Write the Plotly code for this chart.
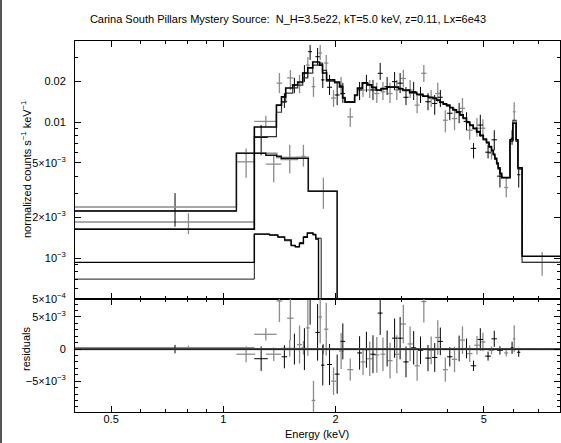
import bisect
import plotly.graph_objects as go

# ---------------- data ----------------
# main model (data group 1, black) : bin edges (keV) and values (counts/s/keV)
main_edges = [0.4, 1.211, 1.388, 1.432, 1.470, 1.535, 1.583, 1.633, 1.684, 1.737,
              1.812, 1.845, 1.892, 1.988, 2.05, 2.089, 2.12, 2.25, 2.29, 2.36,
              2.43, 2.50, 2.57, 2.65, 2.75, 2.85, 2.95, 3.03, 3.16, 3.30,
              3.43, 3.55, 3.65, 3.73, 3.81, 3.89, 3.97, 4.05, 4.13, 4.22,
              4.31, 4.40, 4.49, 4.58, 4.68, 4.78, 4.88, 4.98, 5.08, 5.16,
              5.24, 5.30, 5.35, 5.41, 5.46, 5.52, 5.58, 5.874, 5.98, 6.10,
              6.17, 6.33, 8.0]
main_model_k = [0.00163, 0.0092, 0.0133, 0.0153, 0.0178, 0.0187, 0.0197, 0.0229, 0.0250, 0.0276,
                0.0262, 0.0229, 0.0204, 0.0197, 0.0181, 0.0150, 0.0140, 0.0158, 0.0178, 0.0194,
                0.0188, 0.0180, 0.0172, 0.0176, 0.0181, 0.0181, 0.0176, 0.0172, 0.0165, 0.0160,
                0.0155, 0.0152, 0.0150, 0.0145, 0.0140, 0.0136, 0.0133, 0.0128, 0.0123, 0.0118,
                0.0113, 0.0107, 0.0100, 0.0095, 0.0090, 0.0085, 0.0080, 0.0075, 0.0071, 0.0066,
                0.0062, 0.0058, 0.0054, 0.0050, 0.0046, 0.0042, 0.0039, 0.0074, 0.0098, 0.0074,
                0.0046, 0.00103]
# main model (data group 2, grey)
main_model_g = [0.00163, 0.0078, 0.0118, 0.0140, 0.0163, 0.0178, 0.0187, 0.0211, 0.0229, 0.0262,
                0.0271, 0.0240, 0.0200, 0.0194, 0.0185, 0.0152, 0.0141, 0.0156, 0.0176, 0.0192,
                0.0187, 0.0178, 0.0171, 0.0175, 0.0180, 0.0180, 0.0175, 0.0170, 0.0164, 0.0159,
                0.0154, 0.0151, 0.0148, 0.0144, 0.0139, 0.0135, 0.0131, 0.0127, 0.0122, 0.0117,
                0.0112, 0.0106, 0.0099, 0.0094, 0.0089, 0.0084, 0.0079, 0.0074, 0.0070, 0.0065,
                0.0061, 0.0057, 0.0053, 0.0049, 0.0045, 0.0041, 0.0039, 0.0072, 0.0103, 0.0072,
                0.0045, 0.00093]

# second (soft) spectrum model
mid_edges = [0.4, 1.084, 1.30, 1.39, 1.43, 1.58, 1.69, 2.02, 8.0]
mid_model_k = [0.00222, 0.0059, 0.0057, 0.0056, 0.0054, 0.0054, 0.0031, 1e-5]
mid_model_g = [0.00237, 0.0059, 0.0059, 0.0055, 0.0053, 0.0055, 0.0031, 1e-5]

# low additive components
low_edges = [0.4, 1.211, 1.33, 1.40, 1.46, 1.52, 1.56, 1.60, 1.64, 1.68, 1.74, 1.77, 1.80, 8.0]
low_model = [0.00093, 0.00150, 0.00148, 0.00143, 0.00136, 0.00124, 0.00121, 0.00128,
             0.00142, 0.00153, 0.00149, 0.00138, 1e-5]
low2_edges = [0.4, 1.211, 1.33, 1.40, 1.46, 1.52, 1.56, 1.60, 1.64, 1.68, 1.74, 1.77, 1.83, 8.0]
low2_model = [0.00070, 0.00150, 0.00147, 0.00142, 0.00134, 0.00123, 0.00121, 0.00130,
              0.00144, 0.00152, 0.00148, 0.00140, 1e-5]

# data group 1 (black crosses)
k_E = [0.742, 1.263, 1.458, 1.551, 1.65, 1.709, 1.79, 1.848, 1.927, 2.02, 2.092, 2.32, 2.42,
       2.52, 2.635, 2.75, 2.88, 2.98, 3.09, 3.24, 3.38, 3.54, 3.69, 3.82, 4.05, 4.29,
       4.49, 4.69, 4.89, 5.13, 5.33, 5.52, 5.95, 6.2]
k_dE = [0.342, 0.053, 0.025, 0.025, 0.025, 0.02, 0.025, 0.02, 0.03, 0.03, 0.03, 0.035, 0.04,
        0.04, 0.04, 0.045, 0.045, 0.05, 0.05, 0.05, 0.055, 0.06, 0.06, 0.06, 0.07, 0.07,
        0.08, 0.08, 0.08, 0.09, 0.09, 0.1, 0.05, 0.06]
k_val = [0.00222, 0.0077, 0.0141, 0.0187, 0.0229, 0.0329, 0.0302, 0.0204, 0.0180, 0.0158, 0.0162,
         0.0172, 0.0193, 0.0172, 0.0228, 0.0182, 0.0198, 0.0193, 0.0152, 0.0167, 0.0158, 0.0141,
         0.0137, 0.0152, 0.0116, 0.0119, 0.0101, 0.0064, 0.0095, 0.0060, 0.0074, 0.0040,
         0.0076, 0.0041]
k_hi = [0.00300, 0.0095, 0.0163, 0.0211, 0.0262, 0.0368, 0.0350, 0.0241, 0.0222, 0.0194, 0.0194,
        0.0197, 0.0222, 0.0204, 0.0272, 0.0214, 0.0233, 0.0229, 0.0181, 0.0197, 0.0181, 0.0163,
        0.0158, 0.0172, 0.0133, 0.0138, 0.0118, 0.0070, 0.0113, 0.0068, 0.0087, 0.0046,
        0.0087, 0.0047]
k_lo = [0.00170, 0.0057, 0.0127, 0.0163, 0.0197, 0.0286, 0.0262, 0.0178, 0.0158, 0.0133, 0.0138,
        0.0145, 0.0166, 0.0145, 0.0204, 0.0158, 0.0172, 0.0163, 0.0133, 0.0145, 0.0138, 0.0122,
        0.0113, 0.0129, 0.0103, 0.0098, 0.0087, 0.0054, 0.0078, 0.0054, 0.0062, 0.0033,
        0.0068, 0.0033]

# data group 2 (grey crosses)
g_E = [0.806, 1.30, 1.414, 1.513, 1.601, 1.685, 1.745, 1.819, 1.888, 1.975, 2.07, 2.19, 2.37,
       2.47, 2.58, 2.68, 2.80, 2.92, 3.04, 3.17, 3.31, 3.45, 3.61, 3.76, 3.94, 4.17, 4.38,
       4.58, 4.79, 4.97, 5.24, 5.74, 6.03, 7.165]
g_dE = [0.406, 0.09, 0.025, 0.03, 0.025, 0.02, 0.02, 0.02, 0.025, 0.03, 0.03, 0.04, 0.035,
        0.04, 0.04, 0.04, 0.045, 0.045, 0.05, 0.05, 0.05, 0.055, 0.06, 0.06, 0.06, 0.07, 0.07,
        0.08, 0.08, 0.08, 0.09, 0.07, 0.05, 0.835]
g_val = [0.00184, 0.0101, 0.0193, 0.0211, 0.0194, 0.0262, 0.0182, 0.0321, 0.0271, 0.0150, 0.0182,
         0.0109, 0.0172, 0.0172, 0.0162, 0.0167, 0.0162, 0.0172, 0.0209, 0.0172, 0.0133, 0.0228,
         0.0149, 0.0162, 0.0103, 0.0106, 0.0126, 0.0087, 0.0090, 0.0090, 0.0059, 0.0033, 0.0119,
         0.00093]
g_hi = [0.00214, 0.0111, 0.0229, 0.0241, 0.0222, 0.0301, 0.0214, 0.0368, 0.0311, 0.0172, 0.0214,
        0.0127, 0.0194, 0.0204, 0.0194, 0.0197, 0.0194, 0.0204, 0.0241, 0.0204, 0.0163, 0.0262,
        0.0172, 0.0194, 0.0122, 0.0127, 0.0150, 0.0100, 0.0107, 0.0105, 0.0065, 0.0039, 0.0140,
        0.00111]
g_lo = [0.00150, 0.0092, 0.0163, 0.0172, 0.0163, 0.0214, 0.0153, 0.0286, 0.0229, 0.0129, 0.0158,
        0.0092, 0.0153, 0.0150, 0.0138, 0.0145, 0.0138, 0.0145, 0.0181, 0.0150, 0.0116, 0.0197,
        0.0129, 0.0140, 0.0084, 0.0087, 0.0107, 0.0074, 0.0078, 0.0076, 0.0053, 0.0028, 0.0098,
        0.00074]

# soft spectrum data
m_E = [1.151, 1.365, 1.507, 1.64, 1.855]
m_dE = [0.067, 0.065, 0.075, 0.02, 0.165]
m_val = [0.0051, 0.0049, 0.0055, 0.0056, 0.0031]
m_hi = [0.0064, 0.0057, 0.0068, 0.0068, 0.0039]
m_lo = [0.0039, 0.0036, 0.0042, 0.0047, 0.0023]

TITLE = "Carina South Pillars Mystery Source:  N_H=3.5e22, kT=5.0 keV, z=0.11, Lx=6e43"
x_major = [0.5, 1, 2, 5]
x_minor = [0.4, 0.6, 0.7, 0.8, 0.9, 3, 4, 6, 7, 8]
y_major = [5e-4, 1e-3, 2e-3, 5e-3, 0.01, 0.02]
y_major_txt = ["5×10<sup>−4</sup>", "10<sup>−3</sup>", "2×10<sup>−3</sup>",
               "5×10<sup>−3</sup>", "0.01", "0.02"]
y_minor = [6e-4, 7e-4, 8e-4, 9e-4, 3e-3, 4e-3, 6e-3, 7e-3, 8e-3, 9e-3, 0.03]
r_major = [-5e-3, 0, 5e-3]
r_major_txt = ["−5×10<sup>−3</sup>", "0", "5×10<sup>−3</sup>"]
r_minor = [-9e-3, -8e-3, -7e-3, -6e-3, -4e-3, -3e-3, -2e-3, -1e-3,
           1e-3, 2e-3, 3e-3, 4e-3, 6e-3, 7e-3]

# ---------------- styling ----------------
BLACK = "#000000"
GREY = "#8c8c8c"
FONT = "Liberation Sans, Arial, Helvetica, sans-serif"


def model_at(E, edges, vals):
    i = bisect.bisect_right(edges, E) - 1
    i = max(0, min(i, len(vals) - 1))
    return vals[i]


fig = go.Figure()


def add_cross(E, dE, val, hi, lo, color, width, yaxis="y", xaxis="x"):
    fig.add_trace(go.Scatter(
        x=E, y=val, mode="markers", xaxis=xaxis, yaxis=yaxis,
        marker=dict(size=1, color=color),
        error_x=dict(type="data", array=dE, width=0, thickness=width, color=color),
        error_y=dict(type="data", symmetric=False,
                     array=[h - v for h, v in zip(hi, val)],
                     arrayminus=[v - l for v, l in zip(val, lo)],
                     width=0, thickness=width, color=color),
        showlegend=False, hoverinfo="skip"))


def add_step(edges, vals, color, width):
    fig.add_trace(go.Scatter(
        x=edges, y=list(vals) + [vals[-1]], mode="lines",
        line=dict(color=color, width=width, shape="hv"),
        showlegend=False, hoverinfo="skip"))


# top panel: data
add_cross(g_E, g_dE, g_val, g_hi, g_lo, GREY, 1.3)
add_cross(m_E, m_dE, m_val, m_hi, m_lo, GREY, 1.3)
add_cross(k_E, k_dE, k_val, k_hi, k_lo, BLACK, 1.0)

# top panel: models
add_step(mid_edges, mid_model_g, GREY, 1.6)
add_step(mid_edges, mid_model_k, "#111111", 1.4)
add_step(low2_edges, low2_model, BLACK, 0.9)
add_step(low_edges, low_model, BLACK, 1.4)
add_step(main_edges, main_model_g, "#333333", 1.2)
add_step(main_edges, main_model_k, BLACK, 1.6)


# residual panel: data minus model
def resid(E, val, edges, vals):
    return [v - model_at(e, edges, vals) for e, v in zip(E, val)]


k_model_edges = [mid_edges] + [main_edges] * (len(k_E) - 1)
k_model_vals = [mid_model_k] + [main_model_k] * (len(k_E) - 1)
k_res = [v - model_at(e, ed, mv) for e, v, ed, mv in zip(k_E, k_val, k_model_edges, k_model_vals)]
g_res = resid(g_E, g_val, main_edges, main_model_g)
m_res = resid(m_E, m_val, mid_edges, mid_model_k)


def add_res(E, dE, res, hi, lo, color, width):
    err = [(h - l) / 2 for h, l in zip(hi, lo)]
    fig.add_trace(go.Scatter(
        x=E, y=res, mode="markers", xaxis="x2", yaxis="y2",
        marker=dict(size=1, color=color),
        error_x=dict(type="data", array=dE, width=0, thickness=width, color=color),
        error_y=dict(type="data", array=err, width=0, thickness=width, color=color),
        showlegend=False, hoverinfo="skip"))


add_res(g_E, g_dE, g_res, g_hi, g_lo, GREY, 1.3)
add_res(m_E, m_dE, m_res, m_hi, m_lo, GREY, 1.3)
add_res(k_E, k_dE, k_res, k_hi, k_lo, BLACK, 1.0)

zero_x = [0.4, 8.0]
fig.add_trace(go.Scatter(x=zero_x, y=[0, 0], mode="lines", xaxis="x2", yaxis="y2",
                         line=dict(color=GREY, width=2.4), showlegend=False, hoverinfo="skip"))
fig.add_trace(go.Scatter(x=zero_x, y=[0, 0], mode="lines", xaxis="x2", yaxis="y2",
                         line=dict(color=BLACK, width=1.3), showlegend=False, hoverinfo="skip"))

# ---------------- layout ----------------
W, H = 561, 443
ML, MR, MT, MB = 75, 1, 41, 31
PH = H - MT - MB
split = (412 - 299) / PH

common_x = dict(type="log", range=[-0.39794, 0.90309], showline=True, linecolor=BLACK,
                linewidth=1, mirror="allticks", ticks="inside", ticklen=6, tickcolor=BLACK,
                tickwidth=1, tickmode="array", tickvals=x_major,
                ticktext=["0.5", "1", "2", "5"], showgrid=False, zeroline=False,
                minor=dict(tickmode="array", tickvals=x_minor, ticks="inside", ticklen=3,
                           tickcolor=BLACK, tickwidth=1, showgrid=False),
                tickfont=dict(family=FONT, size=11, color=BLACK))

fig.update_layout(
    width=W, height=H, autosize=False,
    margin=dict(l=ML, r=MR, t=MT, b=MB, pad=0),
    paper_bgcolor="white", plot_bgcolor="white",
    font=dict(family=FONT, size=11, color=BLACK),
    title=dict(text=TITLE, x=288 / W, xref="container", xanchor="center",
               y=1 - 19 / H, yref="container", yanchor="middle",
               font=dict(family=FONT, size=11, color=BLACK)),
    xaxis=dict(**common_x, domain=[0, 1], anchor="y", showticklabels=False),
    xaxis2=dict(**common_x, domain=[0, 1], anchor="y2", matches="x", showticklabels=True,
                ticklabelstandoff=-3),
    yaxis=dict(type="log", domain=[split, 1], anchor="x",
               range=[-3.30103, -1.4045], showline=True, linecolor=BLACK, linewidth=1,
               mirror="allticks", ticks="inside", ticklen=6, tickcolor=BLACK,
               tickmode="array", tickvals=y_major, ticktext=y_major_txt,
               showgrid=False, zeroline=False, ticklabelstandoff=6,
               minor=dict(tickmode="array", tickvals=y_minor, ticks="inside", ticklen=3,
                          tickcolor=BLACK, showgrid=False),
               tickfont=dict(family=FONT, size=11, color=BLACK)),
    yaxis2=dict(domain=[0, split], anchor="x2", range=[-0.0098, 0.0078],
                showline=True, linecolor=BLACK, linewidth=1, mirror="allticks",
                ticks="inside", ticklen=6, tickcolor=BLACK, tickmode="array",
                tickvals=r_major, ticktext=r_major_txt, showgrid=False, zeroline=False,
                ticklabelstandoff=6,
                minor=dict(tickmode="array", tickvals=r_minor, ticks="inside", ticklen=3,
                           tickcolor=BLACK, showgrid=False),
                tickfont=dict(family=FONT, size=11, color=BLACK)),
)

fig.add_annotation(text="normalized counts s<sup>−1</sup> keV<sup>−1</sup>", xref="paper",
                   yref="paper", x=(26 - ML) / (W - ML - MR), y=(split + 1) / 2,
                   textangle=-90, showarrow=False, xanchor="center", yanchor="middle",
                   font=dict(family=FONT, size=11, color=BLACK))
fig.add_annotation(text="residuals", xref="paper", yref="paper",
                   x=(26 - ML) / (W - ML - MR), y=(412 - 349) / PH,
                   textangle=-90, showarrow=False, xanchor="center", yanchor="middle",
                   font=dict(family=FONT, size=11, color=BLACK))
fig.add_annotation(text="Energy (keV)", xref="paper", yref="paper",
                   x=(317 - ML) / (W - ML - MR), y=-(434 - 412) / PH,
                   showarrow=False, xanchor="center", yanchor="middle",
                   font=dict(family=FONT, size=11, color=BLACK))

# dark page-edge rule on the left
fig.add_shape(type="line", xref="paper", yref="paper",
              x0=(1 - ML) / (W - ML - MR), x1=(1 - ML) / (W - ML - MR),
              y0=-MB / PH, y1=1 + MT / PH, line=dict(color="#555555", width=2))

fig.write_html("out.html")
